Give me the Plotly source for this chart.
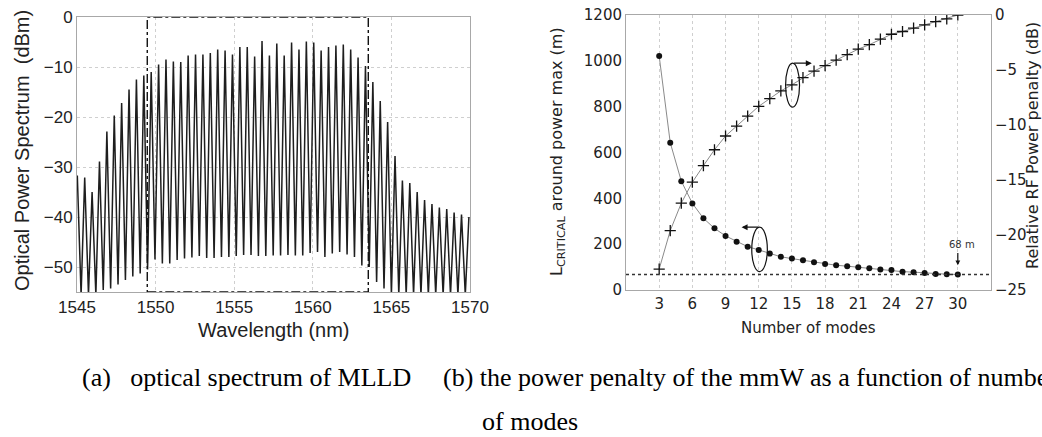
import plotly.graph_objects as go

# ---------------- (a) optical spectrum of MLLD ----------------
peak_wl = [1545.02, 1545.49, 1545.96, 1546.43, 1546.90, 1547.37, 1547.84, 1548.31, 1548.78, 1549.25,
           1549.72, 1550.19, 1550.66, 1551.13, 1551.60, 1552.07, 1552.54, 1553.01, 1553.48, 1553.95,
           1554.42, 1554.89, 1555.36, 1555.83, 1556.30, 1556.77, 1557.24, 1557.71, 1558.18, 1558.65,
           1559.12, 1559.59, 1560.06, 1560.53, 1561.00, 1561.47, 1561.94, 1562.41, 1562.88, 1563.35,
           1563.82, 1564.29, 1564.76, 1565.23, 1565.70, 1566.17, 1566.64, 1567.11, 1567.58, 1568.05,
           1568.52, 1568.99, 1569.46, 1569.93]
peak_dbm = [-31.7, -32.1, -35.0, -28.9, -22.9, -19.7, -17.2, -14.5, -12.5, -11.7,
            -11.0, -9.5, -8.5, -8.9, -9.0, -7.7, -7.5, -7.5, -7.2, -6.5,
            -6.7, -7.5, -6.0, -6.0, -7.9, -4.8, -7.7, -5.3, -7.7, -5.1,
            -6.5, -4.9, -5.1, -6.7, -6.0, -5.7, -5.5, -6.5, -8.1, -9.8,
            -13.0, -16.8, -21.0, -27.8, -32.7, -33.2, -35.0, -36.6, -37.4, -38.1,
            -38.4, -39.1, -39.5, -40.0]
trough_wl = [1545.26, 1545.73, 1546.20, 1546.67, 1547.14, 1547.61, 1548.08, 1548.55, 1549.02, 1549.49,
             1549.96, 1550.43, 1550.90, 1551.37, 1551.84, 1552.31, 1552.78, 1553.25, 1553.72, 1554.19,
             1554.66, 1555.13, 1555.60, 1556.07, 1556.54, 1557.01, 1557.48, 1557.95, 1558.42, 1558.89,
             1559.36, 1559.83, 1560.30, 1560.77, 1561.24, 1561.71, 1562.18, 1562.65, 1563.12, 1563.59,
             1564.06, 1564.53, 1565.00, 1565.47, 1565.94, 1566.41, 1566.88, 1567.35, 1567.82, 1568.29,
             1568.76, 1569.23, 1569.70]
trough_dbm = [-55.6, -55.6, -55.6, -54.6, -54.3, -53.5, -52.6, -51.9, -51.3, -50.5,
              -48.5, -49.3, -49.3, -48.6, -48.3, -48.1, -47.8, -48.2, -48.2, -48.0,
              -48.0, -47.8, -47.6, -47.6, -47.8, -47.8, -47.7, -47.7, -47.6, -47.7,
              -47.7, -47.2, -47.0, -48.0, -47.3, -47.0, -47.5, -48.0, -49.7, -50.0,
              -53.0, -54.3, -55.6, -55.6, -55.6, -55.6, -55.6, -55.6, -55.6, -55.6,
              -55.6, -55.6, -55.6]
box_wl = [1549.47, 1563.53]   # dash-dot selection box

# ---------------- (b) power penalty vs number of modes ----------------
modes = [3, 4, 5, 6, 7, 8, 9, 10, 11, 12, 13, 14, 15, 16, 17, 18, 19, 20,
         21, 22, 23, 24, 25, 26, 27, 28, 29, 30]
l_critical = [1021, 643, 475, 378, 313, 269, 236, 211, 189, 175, 159, 145, 137, 130,
              121, 113, 108, 104, 99, 95, 90, 87, 80, 78, 74, 70, 69, 68]
penalty_db = [-23.1, -19.6, -17.1, -15.2, -13.7, -12.25, -11.0, -10.1, -9.2, -8.3,
              -7.6, -6.9, -6.35, -5.7, -5.1, -4.6, -4.1, -3.6, -3.1, -2.7,
              -2.2, -1.75, -1.5, -1.2, -0.9, -0.6, -0.35, 0.0]
mode_ticks = [3, 6, 9, 12, 15, 18, 21, 24, 27, 30]
l_min = 68

W, H = 1042, 437
def px(x):
    return x / W
def py(y):
    return 1 - y / H

# interleave peaks and troughs for the spectrum trace
spec_x, spec_y = [], []
for i in range(len(peak_wl)):
    spec_x.append(peak_wl[i]); spec_y.append(peak_dbm[i])
    if i < len(trough_wl):
        spec_x.append(trough_wl[i]); spec_y.append(trough_dbm[i])

fig = go.Figure()
fig.add_trace(go.Scatter(x=spec_x, y=spec_y, mode="lines",
                         line=dict(color="#1e1e1e", width=1.5),
                         xaxis="x", yaxis="y", showlegend=False))

fig.add_trace(go.Scatter(x=modes, y=l_critical, mode="lines+markers",
                         line=dict(color="#8a8a8a", width=1),
                         marker=dict(symbol="circle", size=6, color="#111"),
                         xaxis="x2", yaxis="y2", showlegend=False))
fig.add_trace(go.Scatter(x=modes, y=penalty_db, mode="lines+markers",
                         line=dict(color="#8a8a8a", width=1),
                         marker=dict(symbol="cross-thin", size=8,
                                     line=dict(color="#111", width=1.3)),
                         xaxis="x2", yaxis="y3", showlegend=False))

sans = "Liberation Sans, Arial, sans-serif"
dv = "DejaVu Sans, sans-serif"
frame = "#a8a8a8"
grid = "#cfcfcf"

fig.update_layout(
    width=W, height=H, margin=dict(l=0, r=0, t=0, b=0, autoexpand=False),
    paper_bgcolor="white", plot_bgcolor="white",
    xaxis=dict(domain=[px(77), px(470)], range=[1545, 1570], tick0=1545, dtick=5,
               showline=True, mirror=True, linecolor=frame, linewidth=1,
               showgrid=True, gridcolor=grid, griddash="dot", zeroline=False,
               ticks="", tickfont=dict(family=sans, size=17, color="#222"),
               anchor="y", automargin=False),
    yaxis=dict(domain=[py(292), py(17)], range=[-55, 0], tick0=0, dtick=10,
               showline=True, mirror=True, linecolor=frame, linewidth=1,
               showgrid=True, gridcolor=grid, griddash="dot", zeroline=False,
               ticks="", tickfont=dict(family=sans, size=17, color="#222"),
               anchor="x", automargin=False),
    xaxis2=dict(domain=[px(626), px(991)], range=[0, 33], tickvals=mode_ticks,
                showline=True, mirror=True, linecolor=frame, linewidth=1,
                showgrid=True, gridcolor=grid, griddash="dot", zeroline=False,
                ticks="", tickfont=dict(family=dv, size=15, color="#222"),
                anchor="y2", automargin=False),
    yaxis2=dict(domain=[py(290), py(15)], range=[0, 1200], dtick=200,
                showline=True, mirror=False, linecolor=frame, linewidth=1,
                showgrid=False, zeroline=False,
                ticks="", tickfont=dict(family=dv, size=15, color="#222"),
                anchor="x2", automargin=False),
    yaxis3=dict(domain=[py(290), py(15)], range=[-25, 0], dtick=5,
                overlaying="y2", side="right",
                showline=True, linecolor=frame, linewidth=1,
                showgrid=False, zeroline=False,
                ticks="", tickfont=dict(family=dv, size=15, color="#222"),
                anchor="x2", automargin=False),
)

shapes = [
    dict(type="rect", xref="x", yref="y", x0=box_wl[0], x1=box_wl[1], y0=-55, y1=0,
         line=dict(color="#111", width=1.4, dash="dashdot")),
    dict(type="line", xref="x2 domain", yref="y2", x0=0, x1=1, y0=l_min, y1=l_min,
         line=dict(color="#333", width=1.5, dash="dot")),
    dict(type="circle", xref="x2", yref="y2", x0=14.43, x1=15.69, y0=798, y1=990,
         line=dict(color="#111", width=1.2)),
    dict(type="circle", xref="x2", yref="y2", x0=11.37, x1=12.78, y0=80, y1=274,
         line=dict(color="#111", width=1.2)),
]
fig.update_layout(shapes=shapes)

ann = []
# arrows
ann.append(dict(xref="x2", yref="y2", axref="x2", ayref="y2", x=16.8, y=990, ax=15.06, ay=990,
                text="", showarrow=True, arrowhead=2, arrowsize=1, arrowwidth=1.2, arrowcolor="#111"))
ann.append(dict(xref="x2", yref="y2", axref="x2", ayref="y2", x=10.45, y=274, ax=12.08, ay=274,
                text="", showarrow=True, arrowhead=2, arrowsize=1, arrowwidth=1.2, arrowcolor="#111"))
ann.append(dict(xref="x2", yref="y2", axref="x2", ayref="y2", x=30, y=108, ax=30, ay=168,
                text="", showarrow=True, arrowhead=2, arrowsize=0.8, arrowwidth=1.2, arrowcolor="#111"))
ann.append(dict(xref="x2", yref="y2", x=30.4, y=198, text="68 m", showarrow=False,
                font=dict(family=dv, size=10, color="#333")))
# axis titles
ann.append(dict(xref="paper", yref="paper", x=px(22), y=py(151), text="Optical Power Spectrum\u00a0\u00a0(dBm)",
                textangle=-90, showarrow=False, xanchor="center", yanchor="middle",
                font=dict(family=sans, size=20, color="#222")))
ann.append(dict(xref="paper", yref="paper", x=px(273.5), y=py(330), text="Wavelength (nm)",
                showarrow=False, xanchor="center", yanchor="middle",
                font=dict(family=sans, size=20, color="#222")))
ann.append(dict(xref="paper", yref="paper", x=px(557), y=py(152),
                text="L<sub>CRITICAL</sub> around power max (m)",
                textangle=-90, showarrow=False, xanchor="center", yanchor="middle",
                font=dict(family=dv, size=16, color="#222")))
ann.append(dict(xref="paper", yref="paper", x=px(808.5), y=py(328), text="Number of modes",
                showarrow=False, xanchor="center", yanchor="middle",
                font=dict(family=dv, size=15, color="#222")))
ann.append(dict(xref="paper", yref="paper", x=px(1032), y=py(146), text="Relative RF Power penalty (dB)",
                textangle=-90, showarrow=False, xanchor="center", yanchor="middle",
                font=dict(family=dv, size=16, color="#222")))
# captions
serif = "Liberation Serif, Times New Roman, serif"
ann.append(dict(xref="paper", yref="paper", x=px(413), y=py(377),
                text="(a)\u00a0\u00a0\u00a0optical spectrum of MLLD",
                showarrow=False, xanchor="right", yanchor="middle",
                font=dict(family=serif, size=26, color="#000")))
ann.append(dict(xref="paper", yref="paper", x=px(441), y=py(377),
                text="(b) the power penalty of the mmW as a function of number",
                showarrow=False, xanchor="left", yanchor="middle",
                font=dict(family=serif, size=26, color="#000")))
ann.append(dict(xref="paper", yref="paper", x=px(480), y=py(421),
                text="of modes",
                showarrow=False, xanchor="left", yanchor="middle",
                font=dict(family=serif, size=26, color="#000")))
fig.update_layout(annotations=ann)

fig.write_html("out.html")
